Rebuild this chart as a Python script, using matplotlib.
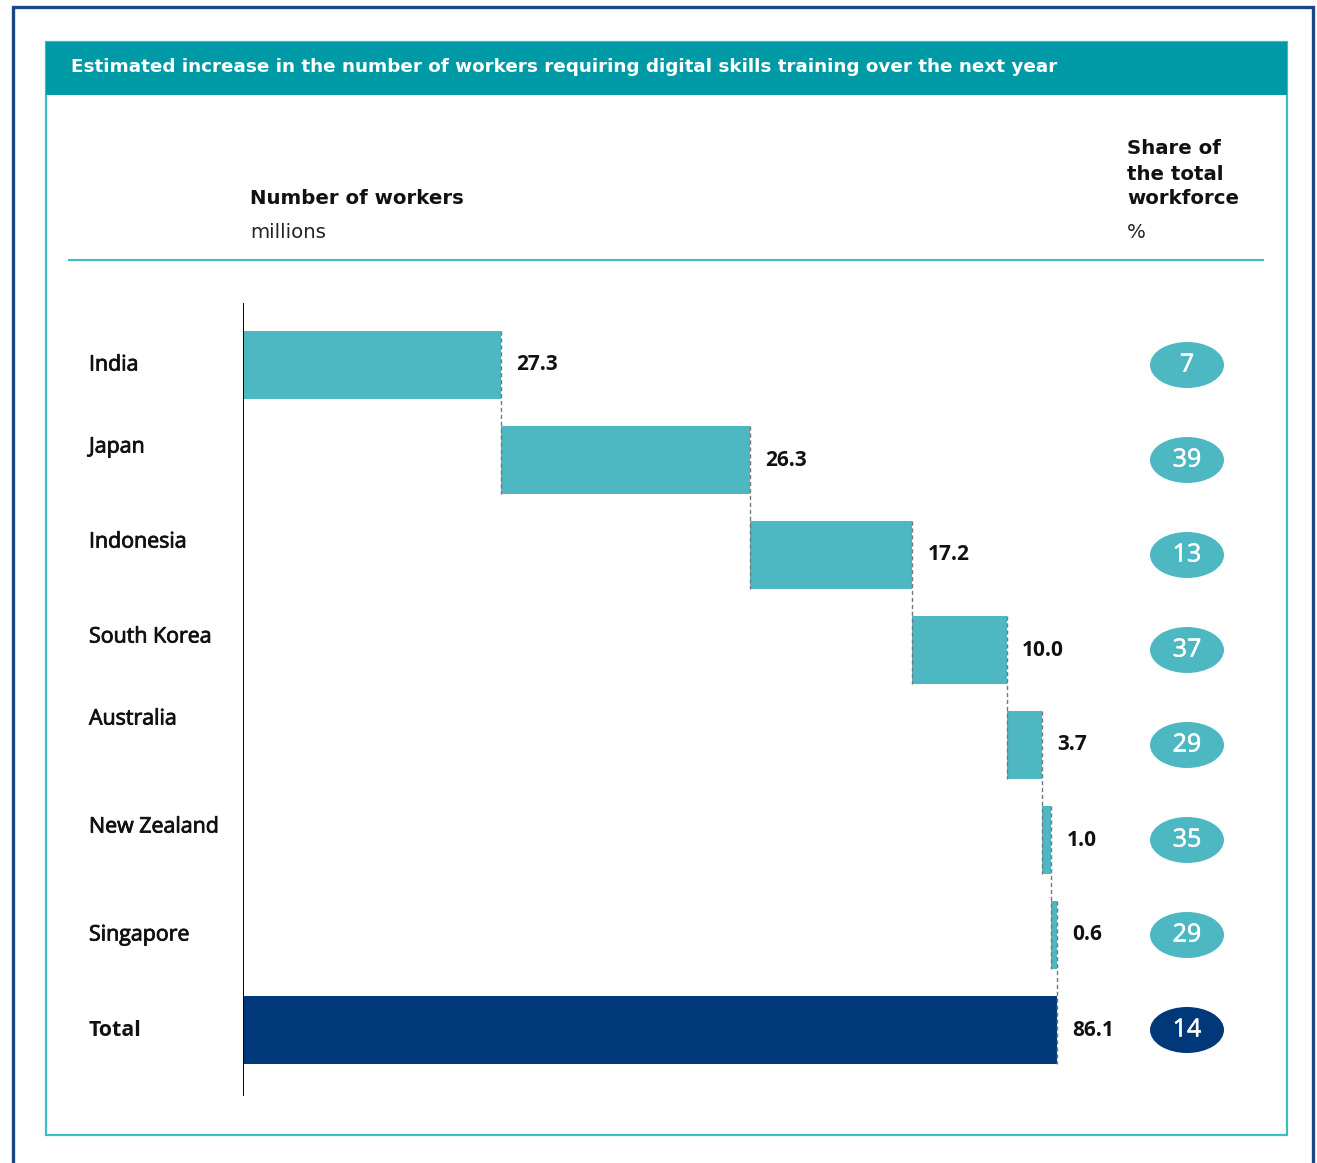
import matplotlib
matplotlib.use("Agg")
import matplotlib.pyplot as plt
from matplotlib.patches import Rectangle, Ellipse
from matplotlib.lines import Line2D
import matplotlib.transforms as mtransforms
import matplotlib.patheffects as pe

# ---- data ----
countries = ["India", "Japan", "Indonesia", "South Korea", "Australia",
             "New Zealand", "Singapore"]
workers_m = [27.3, 26.3, 17.2, 10.0, 3.7, 1.0, 0.6]
share_pct = [7, 39, 13, 37, 29, 35, 29]
total_label = "Total"
total_workers = 86.1
total_share = 14

title = "Estimated increase in the number of workers requiring digital skills training over the next year"

# layout: vertical pixel offsets of the category labels (as in the reference)
label_dy_px = [0, -13, -13, -13, -26, -13, 0, 0]

W, H = 1317, 1163
DPI = 100
fig = plt.figure(figsize=(W / DPI, H / DPI), dpi=DPI)
fig.patch.set_facecolor("white")

TEAL_BAR = "#4DB8C2"
NAVY = "#00387A"
HEADER = "#009AA6"
FRAME = "#3DBCC4"
OUTER = "#1B4785"
FONT = ["Open Sans", "DejaVu Sans"]
HFONT = ["DejaVu Sans"]


def fx(x):
    return x / W


def fy(y):
    return 1 - y / H


# decorative frames
fig.add_artist(Rectangle((fx(13), fy(1175)), fx(1313) - fx(13), fy(7) - fy(1175),
                         transform=fig.transFigure, fill=False, edgecolor=OUTER, lw=2.4))
fig.add_artist(Rectangle((fx(46), fy(1135)), fx(1287) - fx(46), fy(42) - fy(1135),
                         transform=fig.transFigure, fill=False, edgecolor=FRAME, lw=1.6))
fig.add_artist(Rectangle((fx(46), fy(95)), fx(1287) - fx(46), fy(42) - fy(95),
                         transform=fig.transFigure, facecolor=HEADER, edgecolor="none"))
fig.text(fx(71), fy(67), title, color="white", fontsize=13.2, fontweight="bold",
         family=HFONT, va="center", ha="left")

# column headers
fig.text(fx(250), fy(199), "Number of workers", fontsize=14.2, fontweight="bold",
         family=HFONT, va="center", ha="left", color="#111111")
fig.text(fx(250), fy(232), "millions", fontsize=14.2, family=HFONT,
         va="center", ha="left", color="#222222")
for yy, line in zip([148, 174, 199], ["Share of", "the total", "workforce"]):
    fig.text(fx(1127), fy(yy), line, fontsize=14.2, fontweight="bold", family=HFONT,
             va="center", ha="left", color="#111111")
fig.text(fx(1127), fy(232), "%", fontsize=14.2, family=HFONT,
         va="center", ha="left", color="#222222")
fig.add_artist(Line2D([fx(69), fx(1263)], [fy(260), fy(260)],
                      transform=fig.transFigure, color=FRAME, lw=1.5))

# ---- bar axes ----
ax_left, ax_right = 243, 1057
ax_top, ax_bot = 303, 1096
ax = fig.add_axes([fx(ax_left), fy(ax_bot), fx(ax_right) - fx(ax_left),
                   (ax_bot - ax_top) / H])
ax.set_xlim(0, total_workers)
n = len(countries) + 1
ax.set_ylim(7 + 66 / 95, -62 / 95)
ax.axis("off")
ax.axvline(0, color="black", lw=1.4, zorder=5)

bh = 0.72
starts = []
cum = 0.0
for v in workers_m:
    starts.append(cum)
    cum += v

for i, (s, v) in enumerate(zip(starts, workers_m)):
    ax.barh(i, v, left=s, height=bh, color=TEAL_BAR, edgecolor="none", zorder=2)
ax.barh(n - 1, total_workers, left=0, height=bh, color=NAVY, edgecolor="none", zorder=2)

# dashed connectors
for i, (s, v) in enumerate(zip(starts, workers_m)):
    end = s + v
    ax.plot([end, end], [i - bh / 2, i + 1 + bh / 2], ls=(0, (3, 2)),
            color="#777777", lw=1.0, zorder=3, clip_on=False)

# value labels
trans_off = mtransforms.offset_copy(ax.transData, fig=fig, x=15, y=0, units="dots")
for i, (s, v) in enumerate(zip(starts, workers_m)):
    ax.text(s + v, i, f"{v:.1f}", transform=trans_off, fontsize=15,
            fontweight="bold", family=FONT, va="center", ha="left", color="#111111")
ax.text(total_workers, n - 1, f"{total_workers:.1f}", transform=trans_off,
        fontsize=15, fontweight="bold", family=FONT, va="center", ha="left",
        color="#111111")

# category labels
lab_trans = mtransforms.blended_transform_factory(fig.transFigure, ax.transData)
all_labels = countries + [total_label]
semi = [pe.withStroke(linewidth=0.6, foreground="#111111")]
for i, c in enumerate(all_labels):
    tr = mtransforms.offset_copy(lab_trans, fig=fig, x=0, y=-label_dy_px[i], units="dots")
    is_total = i == n - 1
    fig.text(fx(89), i, c, transform=tr, fontsize=15.4,
             fontweight="bold" if is_total else "normal", family=FONT,
             va="center", ha="left", color="#111111",
             path_effects=None if is_total else semi)

# share bubbles
shares = share_pct + [total_share]
for i, sv in enumerate(shares):
    col = NAVY if i == n - 1 else TEAL_BAR
    e = Ellipse((fx(1187), i), fx(74), 46 / 95, transform=lab_trans,
                facecolor=col, edgecolor="none")
    fig.add_artist(e)
    fig.text(fx(1187), i, str(sv), transform=lab_trans, fontsize=18,
             family=FONT, color="white", va="center", ha="center",
             path_effects=[pe.withStroke(linewidth=0.4, foreground="white")])

fig.savefig("out.png", dpi=DPI, facecolor="white")
